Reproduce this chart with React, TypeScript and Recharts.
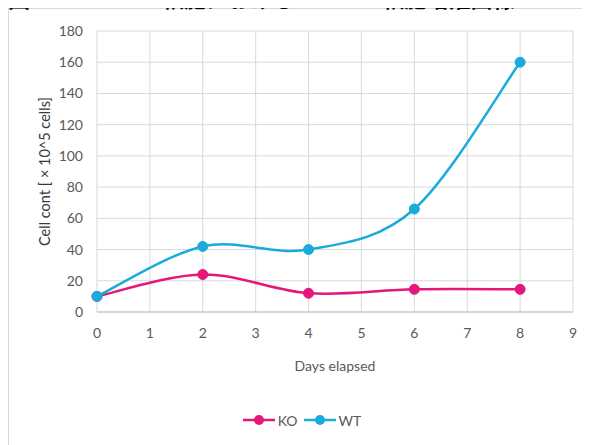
import { LineChart, Line, XAxis, YAxis, CartesianGrid, Legend, Label } from 'recharts';

const DAYS = [0, 2, 4, 6, 8];
const KO = [10, 24, 12, 14.5, 14.5];
const WT = [10, 42, 40, 66, 160];
const X_TICKS = [0, 1, 2, 3, 4, 5, 6, 7, 8, 9];
const Y_TICKS = [0, 20, 40, 60, 80, 100, 120, 140, 160, 180];

const KO_COLOR = '#E5177A';
const WT_COLOR = '#19ACDB';
const FONT = 'Lato, "Noto Sans", sans-serif';

const data = DAYS.map((day, i) => ({ day, KO: KO[i], WT: WT[i] }));

// Excel-style smoothed line (Catmull-Rom through the points)
const excelSmooth = (context: any) => {
  let pts: number[][] = [];
  return {
    areaStart() {},
    areaEnd() {},
    lineStart() {
      pts = [];
    },
    point(x: number, y: number) {
      pts.push([+x, +y]);
    },
    lineEnd() {
      const n = pts.length;
      if (!n) return;
      context.moveTo(pts[0][0], pts[0][1]);
      const t = 1 / 6;
      for (let i = 0; i < n - 1; i++) {
        const p0 = pts[Math.max(i - 1, 0)];
        const p1 = pts[i];
        const p2 = pts[i + 1];
        const p3 = pts[Math.min(i + 2, n - 1)];
        context.bezierCurveTo(
          p1[0] + (p2[0] - p0[0]) * t,
          p1[1] + (p2[1] - p0[1]) * t,
          p2[0] - (p3[0] - p1[0]) * t,
          p2[1] - (p3[1] - p1[1]) * t,
          p2[0],
          p2[1]
        );
      }
    },
  };
};

const renderLegend = (props: any) => (
  <div
    style={{
      height: 24,
      display: 'flex',
      justifyContent: 'center',
      alignItems: 'center',
      gap: 6,
      paddingLeft: 22,
      fontFamily: FONT,
      fontSize: 14,
      color: '#595959',
    }}
  >
    {(props.payload || []).map((entry: any) => (
      <span key={entry.value} style={{ display: 'flex', alignItems: 'center' }}>
        <svg width={32} height={12}>
          <line x1={0} y1={6} x2={32} y2={6} stroke={entry.color} strokeWidth={2.5} />
          <circle cx={16} cy={6} r={5} fill={entry.color} />
        </svg>
        <span style={{ marginLeft: 3 }}>{entry.value}</span>
      </span>
    ))}
  </div>
);

export default function App() {
  return (
    <div style={{ position: 'relative' }}>
      <div
        style={{
          position: 'relative',
          width: 581,
          height: 436,
          borderTop: '1px solid #d9d9d9',
          borderLeft: '1px solid #d9d9d9',
          background: '#fff',
        }}
      >
        <LineChart width={581} height={436} data={data} margin={{ top: 22, right: 17, left: 0, bottom: 13 }}>
          <CartesianGrid stroke="#d9d9d9" strokeWidth={1} />
          <XAxis
            dataKey="day"
            type="number"
            domain={[0, 9]}
            ticks={X_TICKS}
            height={96}
            tickLine={false}
            tickMargin={10}
            axisLine={{ stroke: '#bfbfbf' }}
            tick={{ fill: '#595959', fontSize: 14, fontFamily: FONT }}
          >
            <Label
              value="Days elapsed"
              position="insideBottom"
              offset={37}
              style={{ fill: '#595959', fontSize: 14, fontFamily: FONT }}
            />
          </XAxis>
          <YAxis
            type="number"
            domain={[0, 180]}
            ticks={Y_TICKS}
            width={88}
            tickLine={false}
            axisLine={false}
            tickMargin={8}
            tick={{ fill: '#595959', fontSize: 14, fontFamily: FONT }}
          >
            <Label
              value="Cell cont [ × 10^5 cells]"
              angle={-90}
              position="insideLeft"
              offset={36}
              style={{ fill: '#3a3a3a', fontSize: 14.5, fontFamily: FONT, textAnchor: 'middle' }}
            />
          </YAxis>
          <Legend verticalAlign="bottom" content={renderLegend} />
          <Line
            dataKey="KO"
            name="KO"
            type={excelSmooth as any}
            stroke={KO_COLOR}
            strokeWidth={2.5}
            dot={{ r: 5, fill: KO_COLOR, stroke: KO_COLOR, strokeWidth: 1 }}
            isAnimationActive={false}
          />
          <Line
            dataKey="WT"
            name="WT"
            type={excelSmooth as any}
            stroke={WT_COLOR}
            strokeWidth={2.5}
            dot={{ r: 5, fill: WT_COLOR, stroke: WT_COLOR, strokeWidth: 1 }}
            isAnimationActive={false}
          />
        </LineChart>
      </div>
      {/* figure caption, cut off by the top of the picture */}
      <div
        style={{
          position: 'absolute',
          top: -22,
          left: 0,
          whiteSpace: 'pre',
          fontFamily: '"Noto Sans CJK JP", sans-serif',
          fontSize: 22,
          lineHeight: '22px',
          fontWeight: 700,
          color: '#000',
          zIndex: 2,
        }}
      >
        図6　　　　KO細胞における　　　　細胞増殖曲線
      </div>
    </div>
  );
}
